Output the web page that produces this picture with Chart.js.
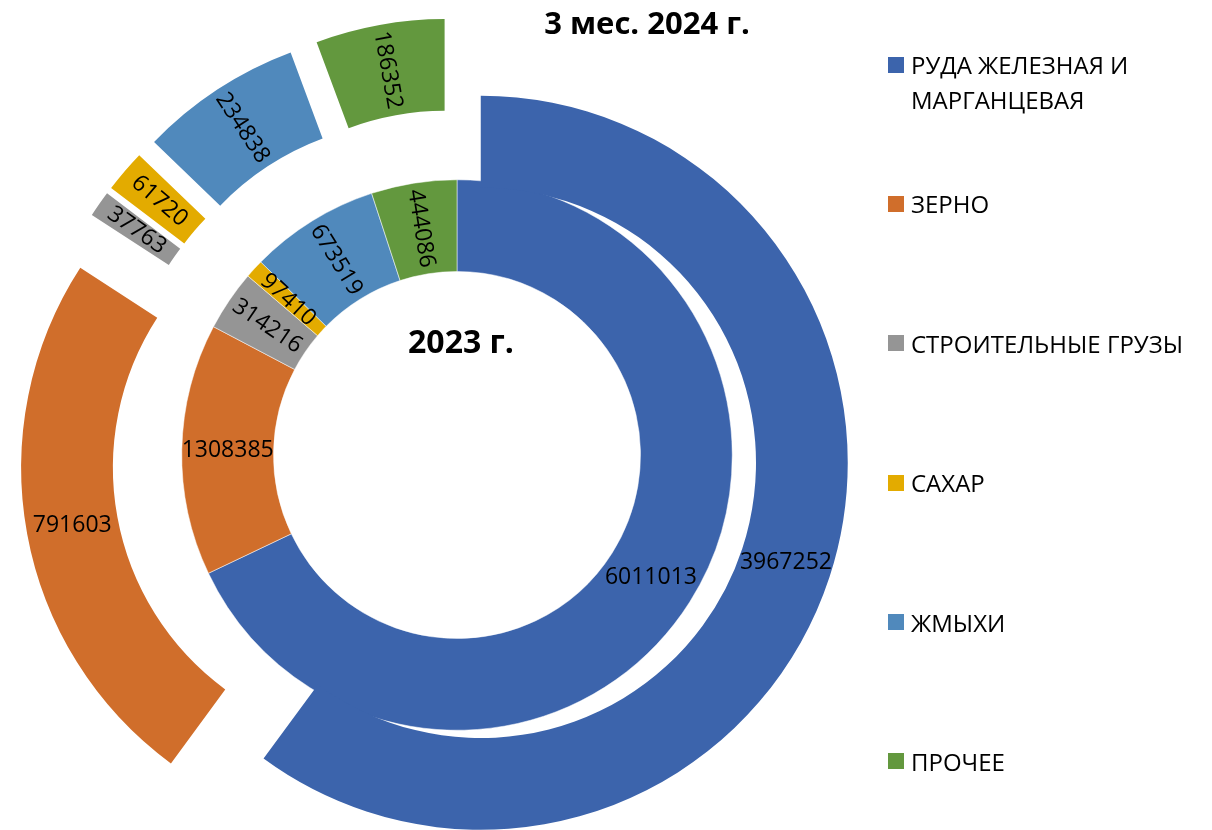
<!DOCTYPE html>
<html lang="ru">
<head>
<meta charset="utf-8">
<title>Структура грузов</title>
<script src="https://cdn.jsdelivr.net/npm/chart.js@4.4.1/dist/chart.umd.min.js"></script>
<style>
  body { margin: 0; background: #fff; font-family: 'Open Sans', sans-serif; color: #000; }
  #wrap { position: relative; width: 1212px; height: 830px; overflow: hidden; }
  #wrap canvas { position: absolute; left: 0; top: 0; }
  .cap { position: absolute; font-weight: bold; transform: translate(-50%, -50%); white-space: nowrap; line-height: 1; }
  #legend { position: absolute; left: 888px; top: 47px; width: 324px; margin: 0; padding: 0; list-style: none; }
  #legend li { display: flex; align-items: flex-start; height: 139.4px; font-size: 24px; line-height: 35px; }
  #legend .box { flex: none; width: 16px; height: 16px; margin: 9.5px 7px 0 0; }
  #legend .txt { width: 305px; }
</style>
</head>
<body>
<div id="wrap">
  <canvas id="cargoChart"></canvas>
  <div class="cap" style="left:647px; top:22px; font-size:31px;">3 мес. 2024 г.</div>
  <div class="cap" style="left:461px; top:341px; font-size:32px;">2023 г.</div>
  <ul id="legend"></ul>
</div>
<script>
const categories = ['РУДА ЖЕЛЕЗНАЯ И МАРГАНЦЕВАЯ', 'ЗЕРНО', 'СТРОИТЕЛЬНЫЕ ГРУЗЫ', 'САХАР', 'ЖМЫХИ', 'ПРОЧЕЕ'];
const values2023 = [6011013, 1308385, 314216, 97410, 673519, 444086];
const values2024 = [3967252, 791603, 37763, 61720, 234838, 186352];
// slice sizes of the outer ring as drawn in the source: the first slice spans only ~216 deg
const arcs2024 = [1975000, 791603, 37763, 61720, 234838, 186352];
const colors = ['#3C64AC', '#D06E2B', '#959595', '#E3AB00', '#5089BC', '#63983E'];

// pull outer slices away from the centre (like exploded slices in Excel)
const explodePlugin = {
    id: 'explode',
    afterDatasetUpdate(chart, args, opts) {
        const amounts = opts.amounts[args.index];
        if (!amounts) return;
        args.meta.data.forEach((arc, i) => {
            const mid = (arc.startAngle + arc.endAngle) / 2;
            arc.x += Math.cos(mid) * amounts[i];
            arc.y += Math.sin(mid) * amounts[i];
        });
    }
};

// value labels in the middle of every slice, narrow slices get radial text
const sliceLabels = {
    id: 'sliceLabels',
    afterDatasetsDraw(chart, args, opts) {
        const ctx = chart.ctx;
        chart.data.datasets.forEach((ds, d) => {
            chart.getDatasetMeta(d).data.forEach((arc, i) => {
                const p = arc.getCenterPoint();
                const mid = (arc.startAngle + arc.endAngle) / 2;
                ctx.save();
                ctx.translate(p.x, p.y);
                if (arc.circumference < opts.rotateBelow) ctx.rotate(mid + Math.PI);
                ctx.font = opts.font;
                ctx.fillStyle = '#000';
                ctx.textAlign = 'center';
                ctx.textBaseline = 'middle';
                ctx.fillText(String(ds.valueLabels[i]), 0, 0);
                ctx.restore();
            });
        });
    }
};

const ctx = document.getElementById('cargoChart');
new Chart(ctx, {
    type: 'doughnut',
    data: {
        labels: categories,
        datasets: [{
            label: '3 мес. 2024 г.',
            data: arcs2024,
            valueLabels: values2024,
            backgroundColor: colors,
            borderWidth: 0
        }, {
            label: '2023 г.',
            data: values2023,
            valueLabels: values2023,
            backgroundColor: colors,
            borderColor: '#fff',
            borderWidth: 0.5
        }]
    },
    options: {
        responsive: true,
        maintainAspectRatio: false,
        animation: false,
        radius: 367,
        cutout: '50%',
        layout: { padding: { left: 0, right: 298, top: 80, bottom: 0 } },
        plugins: {
            legend: { display: false },
            tooltip: { enabled: false },
            explode: { amounts: [[25, 70, 70, 70, 70, 70], null] },
            sliceLabels: { font: '23px "Open Sans"', rotateBelow: 0.8 }
        }
    },
    plugins: [explodePlugin, sliceLabels]
});

const legend = document.getElementById('legend');
categories.forEach((name, i) => {
    const li = document.createElement('li');
    li.innerHTML = '<span class="box" style="background:' + colors[i] + '"></span><span class="txt">' + name + '</span>';
    legend.appendChild(li);
});
</script>
</body>
</html>
